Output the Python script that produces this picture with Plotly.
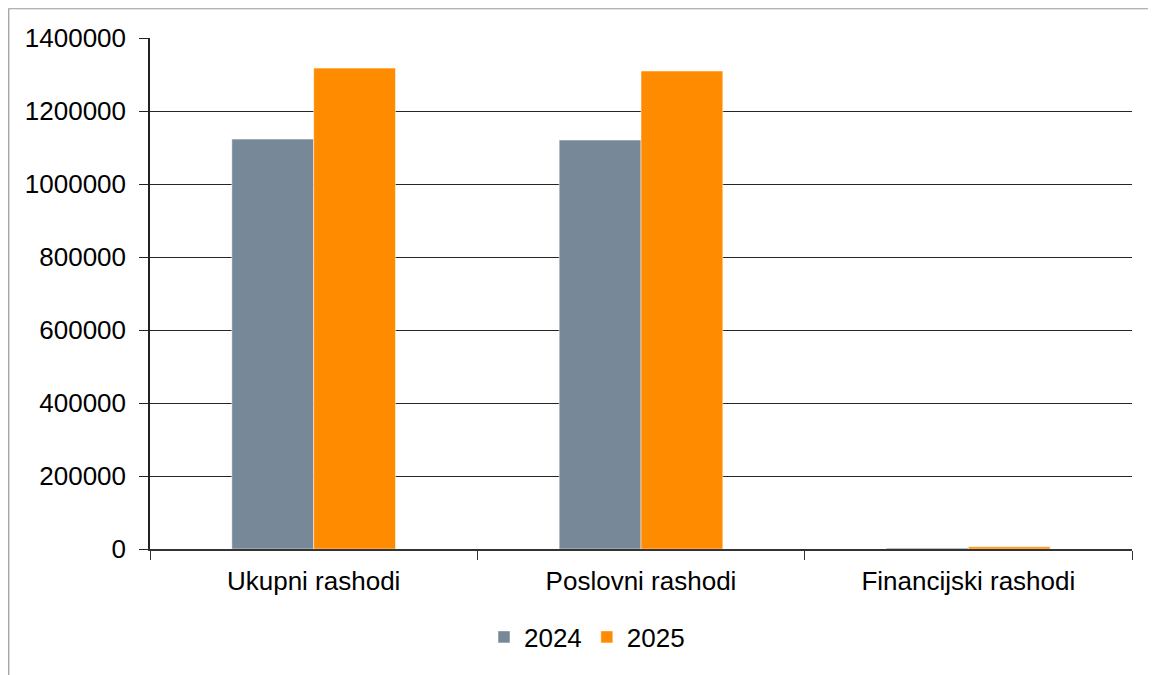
import plotly.graph_objects as go

categories = ["Ukupni rashodi", "Poslovni rashodi", "Financijski rashodi"]
values_2024 = [1123000, 1120500, 2500]
values_2025 = [1317500, 1309500, 6000]
series_names = ["2024", "2025"]
tick_vals = [0, 200000, 400000, 600000, 800000, 1000000, 1200000, 1400000]

FONT = "Liberation Sans, Arial, sans-serif"

fig = go.Figure()
fig.add_trace(go.Bar(x=categories, y=values_2024, name=series_names[0],
                     marker=dict(color="#778899", line=dict(color="#ffffff", width=0.5))))
fig.add_trace(go.Bar(x=categories, y=values_2025, name=series_names[1],
                     marker=dict(color="#FF8C00", line=dict(color="#ffffff", width=0.5))))

W, H = 1156, 675
L, R, T, B = 142, 32, 30, 134
pw, ph = W - L - R, H - T - B

fig.update_layout(
    width=W, height=H,
    margin=dict(l=L, r=R, t=T, b=B),
    paper_bgcolor="white", plot_bgcolor="white",
    barmode="group", bargap=0.5, bargroupgap=0,
    font=dict(family=FONT, size=26, color="#000000"),
    showlegend=True,
    legend=dict(orientation="h", x=0.445, xanchor="center", y=-(637 - 549) / ph, yanchor="middle",
                font=dict(size=26), traceorder="normal"),
    xaxis=dict(showline=True, linecolor="#333333", linewidth=1.5,
               ticks="outside", tickson="boundaries", ticklen=9, tickcolor="#333333",
               tickfont=dict(size=26), showgrid=False, ticklabelstandoff=8),
    yaxis=dict(range=[0, 1400000], tickvals=tick_vals, ticktext=[str(v) for v in tick_vals],
               showline=True, linecolor="#222222", linewidth=1.5,
               ticks="outside", ticklen=9, tickcolor="#222222",
               showgrid=True, gridcolor="#262626", gridwidth=1.2,
               zeroline=False, tickfont=dict(size=26), ticklabelstandoff=8),
    shapes=[dict(type="rect", xref="paper", yref="paper",
                 x0=(0.75 - L) / pw, x1=(W + 20 - L) / pw,
                 y0=-(H + 20 - (H - B)) / ph, y1=1 + (T - 0.75) / ph,
                 line=dict(color="#999999", width=1.2), fillcolor="rgba(0,0,0,0)", layer="below")],
)

fig.write_html("out.html")
